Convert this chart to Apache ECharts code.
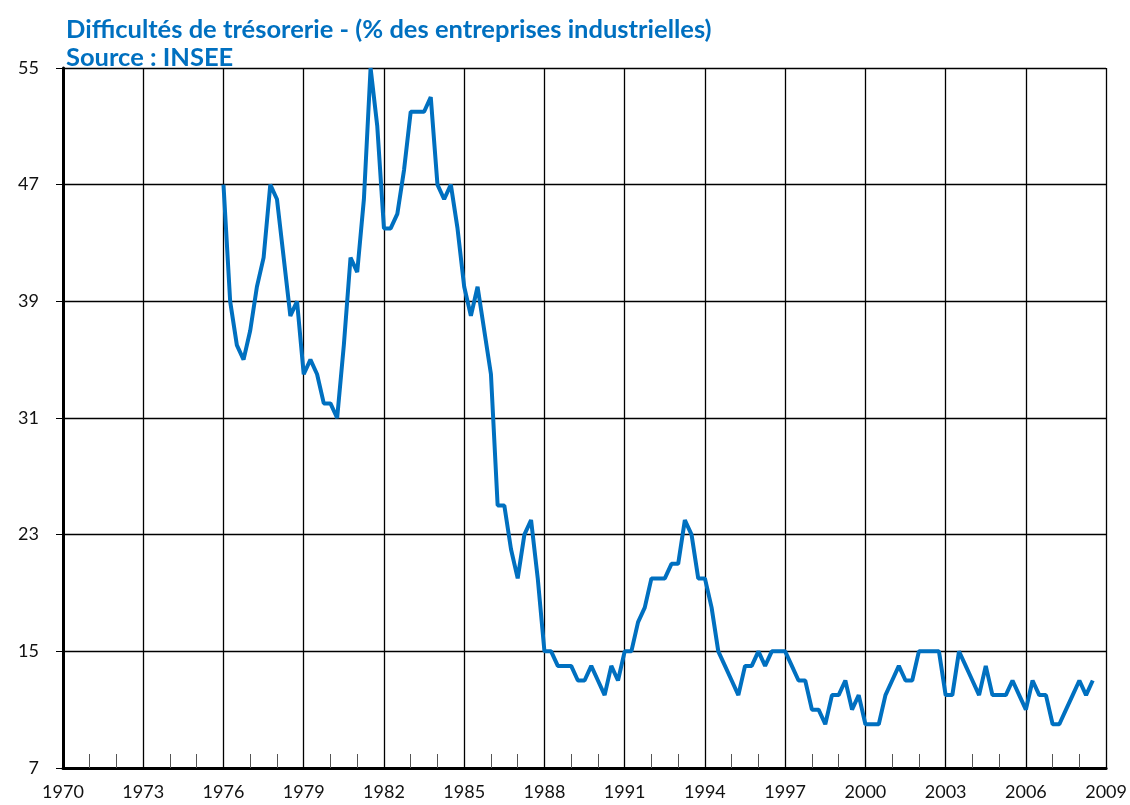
<!DOCTYPE html>
<html>
<head>
<meta charset="utf-8">
<script src="https://cdn.jsdelivr.net/npm/echarts@6/dist/echarts.min.js"></script>
<style>
  html, body { margin: 0; padding: 0; background: #fff; }
  #myCharts { width: 1130px; height: 805px; }
</style>
</head>
<body>
<div id="myCharts"></div>
<script>
  // trimestriel, premier point = 1976 T1
  const startYear = 1976;
  const stepYear = 0.25;
  const tresorerie = [
    47, 39, 36, 35, 37, 40, 42, 47, 46, 42, 38, 39, 34, 35, 34, 32,
    32, 31, 36, 42, 41, 46, 55, 51, 44, 44, 45, 48, 52, 52, 52, 53,
    47, 46, 47, 44, 40, 38, 40, 37, 34, 25, 25, 22, 20, 23, 24, 20,
    15, 15, 14, 14, 14, 13, 13, 14, 13, 12, 14, 13, 15, 15, 17, 18,
    20, 20, 20, 21, 21, 24, 23, 20, 20, 18, 15, 14, 13, 12, 14, 14,
    15, 14, 15, 15, 15, 14, 13, 13, 11, 11, 10, 12, 12, 13, 11, 12,
    10, 10, 10, 12, 13, 14, 13, 13, 15, 15, 15, 15, 12, 12, 15, 14,
    13, 12, 14, 12, 12, 12, 13, 12, 11, 13, 12, 12, 10, 10, 11, 12,
    13, 12, 13
  ];
  const titleText = 'Difficultés de trésorerie - (% des entreprises industrielles)';
  const sourceText = 'Source : INSEE';

  let mychart = echarts.init(document.getElementById('myCharts'));
  let option = {
    animation: false,
    title: {
      text: titleText + '\n' + sourceText,
      left: 61,
      top: 11,
      textStyle: {
        color: '#0070C0',
        fontFamily: 'Lato',
        fontWeight: 'bold',
        fontSize: 25.5,
        lineHeight: 28
      }
    },
    grid: {
      left: 63,
      right: 23,
      top: 68,
      bottom: 37,
      containLabel: false
    },
    xAxis: {
      type: 'value',
      min: 1970,
      max: 2009,
      interval: 3,
      axisLine: { show: true, onZero: false, lineStyle: { color: '#000', width: 3 } },
      axisTick: { show: true, inside: true, length: 14, lineStyle: { color: '#000', width: 1 } },
      minorTick: { show: true, splitNumber: 3, length: 14, lineStyle: { color: '#555', width: 1 } },
      axisLabel: {
        color: '#111',
        fontFamily: 'Lato',
        fontSize: 18,
        margin: 15,
        formatter: function (v) { return String(v); }
      },
      splitLine: { show: true, lineStyle: { color: '#000', width: 1.3 } }
    },
    yAxis: {
      type: 'value',
      min: 7,
      max: 55,
      interval: 8,
      axisLine: { show: true, onZero: false, lineStyle: { color: '#000', width: 3 } },
      axisTick: { show: true, inside: false, length: 7, lineStyle: { color: '#000', width: 1 } },
      axisLabel: {
        color: '#111',
        fontFamily: 'Lato',
        fontSize: 18,
        margin: 24
      },
      splitLine: { show: true, lineStyle: { color: '#000', width: 1.3 } }
    },
    series: [{
      type: 'line',
      data: tresorerie.map(function (v, i) { return [startYear + i * stepYear, v]; }),
      showSymbol: false,
      smooth: false,
      lineStyle: { color: '#0070C0', width: 4 },
      z: 3
    }]
  };
  mychart.setOption(option);
  window.onresize = mychart.resize;
</script>
</body>
</html>
